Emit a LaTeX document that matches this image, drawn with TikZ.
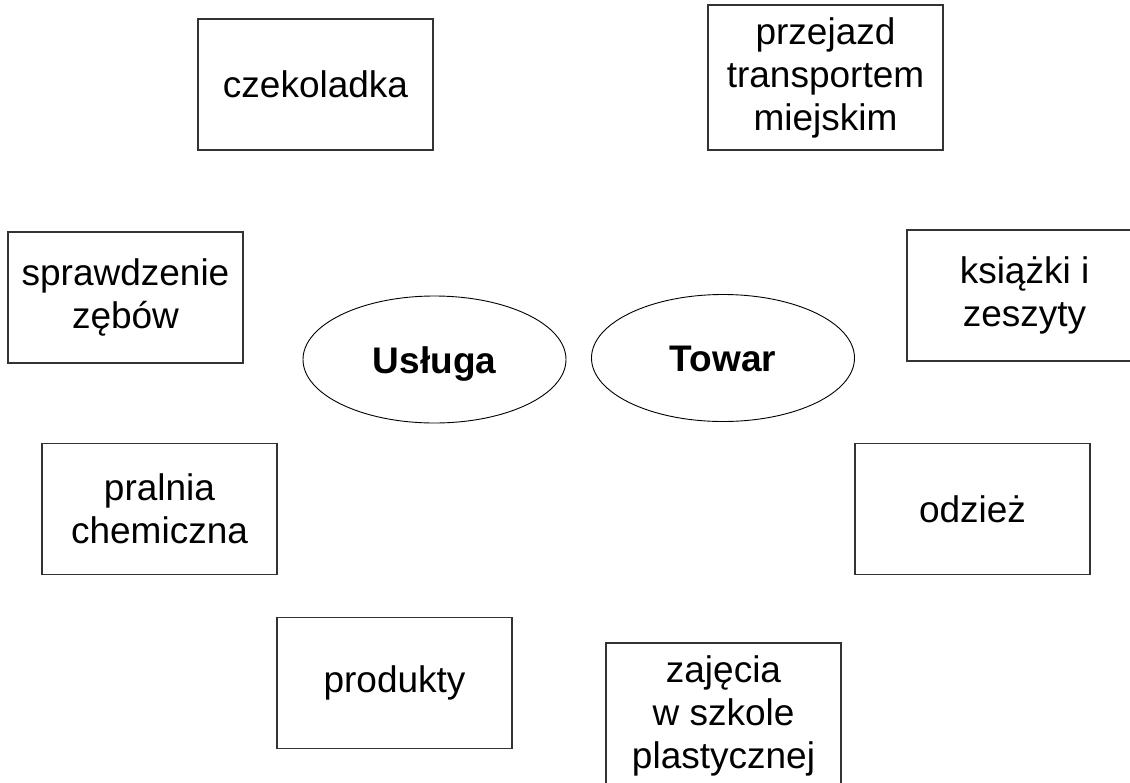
\documentclass[tikz,border=0pt]{standalone}
\usepackage{fontspec}
\setmainfont{Liberation Sans}
\usetikzlibrary{shapes.geometric}

\begin{document}
\begin{tikzpicture}[x=1pt,y=-1pt,
  box/.style={draw=black!80, line width=1.2pt, minimum width=235pt,
    minimum height=131pt, inner sep=0pt, align=center,
    font=\fontsize{37}{43}\selectfont},
  oval/.style={ellipse, draw, line width=0.9pt, minimum width=263pt,
    minimum height=127pt, inner sep=0pt, text height=27pt, text depth=0pt,
    font=\fontsize{37}{43}\selectfont\bfseries}]

\useasboundingbox (0,0) rectangle (1130,782);
\clip (0,0) rectangle (1130,782);

\node[box] (czekoladka) at (315.5, 84.5) {czekoladka};
\node[box, minimum height=145pt] (przejazd) at (825.5, 77.5) {przejazd\\transportem\\miejskim};
\node[box] (zeby)     at ( 125.5,297.5) {sprawdzenie\\zębów};
\node[box] (ksiazki)  at (1024.5,295.5) {książki i\\zeszyty};
\node[box] (pralnia)  at ( 159.5,509.0) {pralnia\\chemiczna};
\node[box] (odziez)   at ( 972.5,509.0) {odzież};
\node[box] (produkty) at ( 394.5,683.0) {produkty};
\node[box, minimum height=145pt] (zajecia) at (723.5,715.5) {zajęcia\\w szkole\\plastycznej};

\node[oval] (usluga) at (434.5,359.5) {Usługa};
\node[oval] (towar)  at (723.0,358.0) {Towar};
\end{tikzpicture}
\end{document}
